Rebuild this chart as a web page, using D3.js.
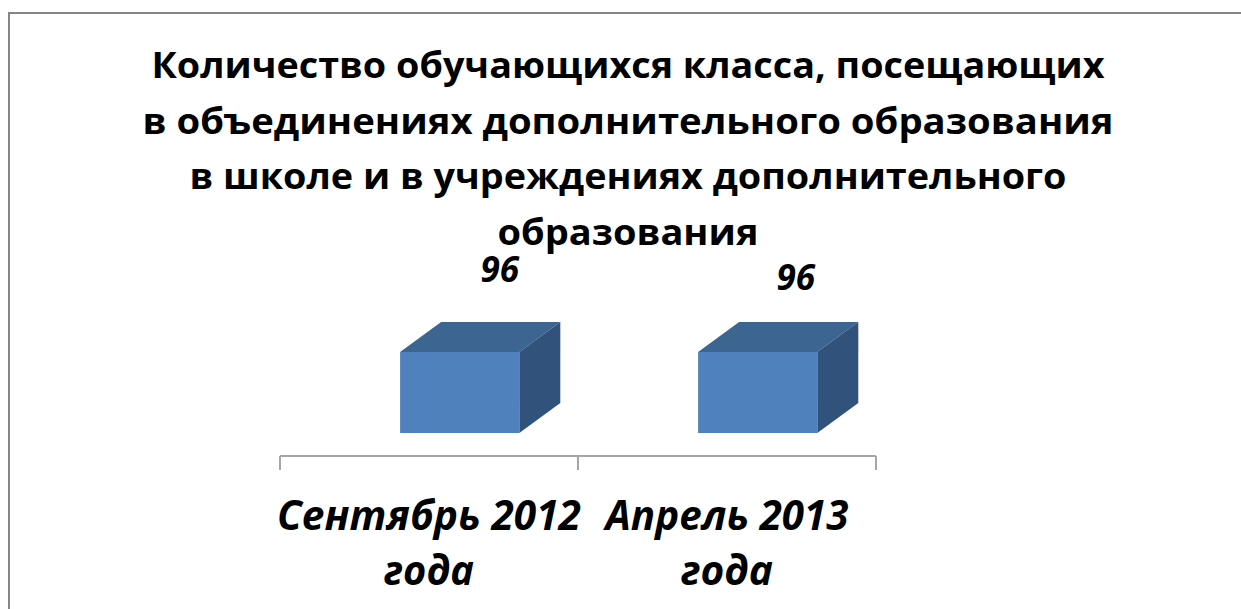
<!DOCTYPE html>
<html>
<head>
<meta charset="utf-8">
<script src="https://cdn.jsdelivr.net/npm/d3@7"></script>
<style>
  html, body { margin: 0; padding: 0; background: #fff; }
  svg { display: block; }
</style>
</head>
<body>
<svg id="chart" width="1241" height="609"></svg>
<script>
// ---- data ----
const titleLines = [
  "Количество обучающихся класса, посещающих",
  "в объединениях дополнительного образования",
  "в школе и в учреждениях дополнительного",
  "образования"
];
const categories = ["Сентябрь 2012 года", "Апрель 2013 года"];
const categoryLines = [["Сентябрь 2012", "года"], ["Апрель 2013", "года"]];
const values = [96, 96];

// ---- layout ----
const W = 1241, H = 609;
const svg = d3.select("#chart");
const fontFamily = "'Open Sans', 'Noto Sans', 'DejaVu Sans', sans-serif";

// frame
svg.append("path")
  .attr("d", `M9,${H + 5} L9,13 L${W + 5},13`)
  .attr("fill", "none")
  .attr("stroke", "#858585")
  .attr("stroke-width", 2);

// title
const titleWidths = [953, 971, 877, 261];
const titleBaselines = [78, 134, 189, 245];
svg.append("g").selectAll("text")
  .data(titleLines)
  .join("text")
  .attr("x", 628)
  .attr("y", (d, i) => titleBaselines[i])
  .attr("text-anchor", "middle")
  .attr("font-family", fontFamily)
  .attr("font-weight", "bold")
  .attr("font-size", 35.5)
  .attr("fill", "#000")
  .attr("textLength", (d, i) => titleWidths[i])
  .attr("lengthAdjust", "spacingAndGlyphs")
  .text(d => d);

// scales
const x = d3.scaleBand().domain(categories).range([280, 876]).padding(0);
const floorY = 433;
const y = d3.scaleLinear().domain([0, d3.max(values)]).range([floorY, 352]);

const step = x.step();
const frontOffset = step * 0.403;
const frontW = step * 0.4;
const depthX = 41, depthY = 30;

// axis
const axisY = 456;
const axis = svg.append("g").attr("stroke", "#a6a6a6").attr("stroke-width", 2);
axis.append("line")
  .attr("x1", x.range()[0]).attr("x2", x.range()[1])
  .attr("y1", axisY).attr("y2", axisY);
const tickPos = categories.map(c => x(c)).concat([x.range()[1]]);
axis.selectAll("line.tick")
  .data(tickPos)
  .join("line")
  .attr("class", "tick")
  .attr("x1", d => d).attr("x2", d => d)
  .attr("y1", axisY).attr("y2", axisY + 14);

// bars (3D boxes)
const bars = svg.append("g").selectAll("g")
  .data(categories.map((c, i) => ({ c, v: values[i], i })))
  .join("g");

bars.each(function (d) {
  const g = d3.select(this);
  const x0 = x(d.c) + frontOffset;
  const x1 = x0 + frontW;
  const yt = y(d.v);
  const yb = y(0);
  // top face
  g.append("path")
    .attr("d", `M${x0},${yt} L${x0 + depthX},${yt - depthY} L${x1 + depthX},${yt - depthY} L${x1},${yt} Z`)
    .attr("fill", "#3d6592");
  // side face
  g.append("path")
    .attr("d", `M${x1},${yt} L${x1 + depthX},${yt - depthY} L${x1 + depthX},${yb - depthY} L${x1},${yb} Z`)
    .attr("fill", "#30527b");
  // front face
  g.append("rect")
    .attr("x", x0).attr("y", yt)
    .attr("width", frontW).attr("height", yb - yt)
    .attr("fill", "#4f81bd");
  // value label
  g.append("text")
    .attr("x", x0 + frontW / 2 + depthX - 1 - d.i * 2)
    .attr("y", yt - depthY - 40 + d.i * 8)
    .attr("text-anchor", "middle")
    .attr("font-family", fontFamily)
    .attr("font-weight", "bold")
    .attr("font-style", "italic")
    .attr("font-size", 35)
    .attr("fill", "#000")
    .text(d.v);
});

// category labels
const catWidths = [[304, 90], [243, 92]];
const catG = svg.append("g");
categories.forEach((c, i) => {
  const cx = x(c) + x.bandwidth() / 2;
  categoryLines[i].forEach((line, j) => {
    catG.append("text")
      .attr("x", cx)
      .attr("y", 530 + j * 55)
      .attr("text-anchor", "middle")
      .attr("font-family", fontFamily)
      .attr("font-weight", "bold")
      .attr("font-style", "italic")
      .attr("font-size", 42)
      .attr("fill", "#000")
      .attr("textLength", catWidths[i][j])
      .attr("lengthAdjust", "spacingAndGlyphs")
      .text(line);
  });
});
</script>
</body>
</html>
